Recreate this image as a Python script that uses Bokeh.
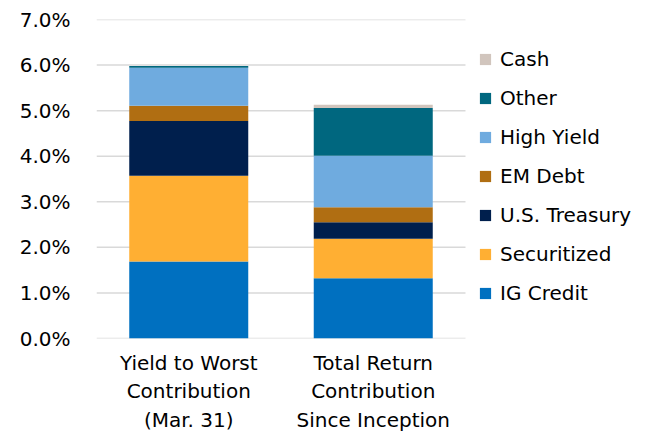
from bokeh.plotting import figure
from bokeh.models import ColumnDataSource, NumeralTickFormatter, FixedTicker, Legend, LegendItem, Range1d
from bokeh.embed import file_html
from bokeh.resources import INLINE

categories = ["Yield to Worst\nContribution\n(Mar. 31)", "Total Return\nContribution\nSince Inception"]
series = ["IG Credit", "Securitized", "U.S. Treasury", "EM Debt", "High Yield", "Other", "Cash"]
ig_credit = [0.0169, 0.0132]
securitized = [0.0188, 0.0087]
us_treasury = [0.0120, 0.0036]
em_debt = [0.0034, 0.0033]
high_yield = [0.0083, 0.0113]
other = [0.0004, 0.0105]
cash = [0.0000, 0.0007]
colors = ["#0070C0", "#FFAF33", "#001F4D", "#B06E12", "#6FABDF", "#00677F", "#D1C5BD"]
yticks = [0.0, 0.01, 0.02, 0.03, 0.04, 0.05, 0.06, 0.07]

FONT = "DejaVu Sans"
FS = "20px"

n = len(categories)
xpos = [i + 0.5 for i in range(n)]
data = {"x": xpos, "IG Credit": ig_credit, "Securitized": securitized,
        "U.S. Treasury": us_treasury, "EM Debt": em_debt, "High Yield": high_yield,
        "Other": other, "Cash": cash}
source = ColumnDataSource(data)

W, H = 660, 435
left, top, bottom = 96, 19, 96
frame_w = W - left
cat_px = 184.5  # pixel width of one category slot

p = figure(width=W, height=H, output_backend="svg", toolbar_location=None,
           min_border_left=left, min_border_right=0, min_border_top=top,
           min_border_bottom=bottom,
           x_range=Range1d(0, frame_w / cat_px), y_range=Range1d(0, 0.07))

# horizontal gridlines limited to the category area
p.segment(x0=[0] * len(yticks), x1=[n] * len(yticks), y0=yticks, y1=yticks,
          line_color="#D9D9D9", line_width=1.5)

renderers = p.vbar_stack(series, x="x", width=0.645, color=colors, source=source, line_color=None)

p.outline_line_color = None
p.xgrid.grid_line_color = None
p.ygrid.grid_line_color = None
p.yaxis.ticker = FixedTicker(ticks=yticks)
p.yaxis.formatter = NumeralTickFormatter(format="0.0%")
p.xaxis.ticker = FixedTicker(ticks=xpos)
p.xaxis.major_label_overrides = {x: c for x, c in zip(xpos, categories)}
for ax in (p.xaxis[0], p.yaxis[0]):
    ax.axis_line_color = None
    ax.major_tick_line_color = None
    ax.minor_tick_line_color = None
    ax.major_label_text_font = FONT
    ax.major_label_text_font_size = FS
    ax.major_label_text_color = "#000000"
p.yaxis.major_label_standoff = 20
p.xaxis.major_label_standoff = 6

items = [LegendItem(label=s, renderers=[r]) for s, r in zip(series, renderers)][::-1]
legend = Legend(items=items, location=(382, 33), orientation="vertical",
                glyph_width=14, glyph_height=14, label_height=20, spacing=15,
                label_standoff=8, padding=0, margin=0, border_line_color=None,
                background_fill_alpha=0, label_text_font=FONT, label_text_font_size=FS,
                label_text_color="#000000")
p.add_layout(legend, "center")

open("out.html", "w").write(file_html(p, INLINE))
